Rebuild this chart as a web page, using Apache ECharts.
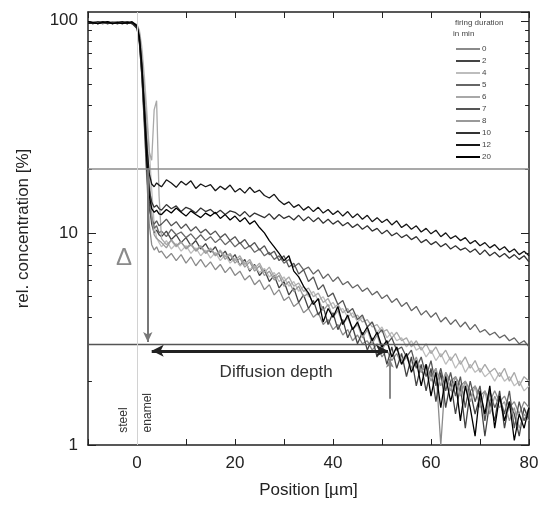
<!DOCTYPE html>
<html>
<head>
<meta charset="utf-8">
<script src="https://cdn.jsdelivr.net/npm/echarts@6/dist/echarts.min.js"></script>
<style>html,body{margin:0;padding:0;background:#fff}#c{width:545px;height:506px}</style>
</head>
<body>
<div id="c"></div>
<script>
// Position grid (µm): flat steel region, fine steps over the step, then 1 µm steps
const positions = [-10,-9,-8,-7,-6,-5,-4,-3,-2,-1,0,0.5,1,1.5,2,2.5,3,3.5,4,4.5,
  5,6,7,8,9,10,11,12,13,14,15,16,17,18,19,20,21,22,23,24,25,26,27,28,29,30,
  31,32,33,34,35,36,37,38,39,40,41,42,43,44,45,46,47,48,49,50,51,52,53,54,55,
  56,57,58,59,60,61,62,63,64,65,66,67,68,69,70,71,72,73,74,75,76,77,78,79,80];

const legendLabels = ['0','2','4','5','6','7','8','10','12','20'];

const c0 = [97,98,97,98,97,99,98,97,98,97, 93,79,54,32,18,11,8.8,8.3,8.6,8.1,
  8.2,7.6,8.0,7.4,7.9,7.2,7.7,7.0,7.5,6.9, 7.3,6.7,7.1,6.5,6.9,6.3,6.6,6.0,6.3,5.7,
  6.0,5.4,5.7,5.1,5.4,4.8,5.0,4.5,4.7,4.2, 4.4,4.0,4.2,3.7,3.9,3.5,3.7,3.3,3.5,3.1,
  3.3,3.0,3.1,2.8,3.0,2.6,2.8,2.5,2.7,2.4, 2.6,2.3,2.5,2.2,2.4,2.1,2.3,1.0,2.2,2.0,
  2.1,1.9,2.0,1.8,1.9,1.7,1.8,1.6,1.8,1.6, 1.7,1.5,1.6,1.4,1.6,1.5];
const c2 = [98,99,97,98,98,97,98,99,97,98, 94,81,58,36,21,14,11,10,10.3,9.8,
  9.6,10.2,9.3,9.8,9.0,9.5,8.7,9.2,8.4,8.9, 8.1,8.6,7.7,8.2,7.4,7.9,7.0,7.5,6.6,7.1,
  6.3,6.7,5.9,6.3,5.5,5.9,5.1,5.5,4.7,5.1, 4.4,4.8,4.1,4.5,3.7,4.2,3.5,3.9,3.2,3.6,
  3.0,3.4,2.8,3.2,2.6,3.0,2.4,2.9,2.3,2.7, 2.1,2.6,1.9,2.4,1.8,2.3,1.6,2.2,1.5,2.0,
  1.4,1.9,1.2,1.8,1.4,1.7,1.1,1.6,1.3,1.8, 1.2,1.6,1.4,1.1,1.5,1.3];
const c4 = [98,97,99,98,97,98,97,99,97,98, 96,90,75,55,38,25,16,11,9.5,9.0,
  8.6,9.2,8.4,8.9,8.2,8.7,8.0,8.5,7.8,8.3, 7.6,8.1,7.4,7.9,7.2,7.6,7.0,7.3,6.7,7.0,
  6.5,6.8,6.2,6.5,5.9,6.2,5.6,5.9,5.3,5.6, 5.0,5.3,4.8,5.0,4.5,4.7,4.3,4.4,4.0,4.2,
  3.8,4.0,3.6,3.8,3.4,3.6,3.2,3.4,3.1,3.2, 2.9,3.1,2.8,2.9,2.6,2.8,2.5,2.7,2.4,2.6,
  2.3,2.5,2.2,2.4,2.2,2.3,2.1,2.2,2.0,2.2, 2.0,2.1,1.9,2.0,1.8,1.9];
const c5 = [98,97,98,99,97,98,99,97,98,97, 94,83,63,42,26,17,12,10.5,10.8,10.0,
  10.2,9.6,10.4,9.8,10.1,9.5,9.9,9.3,9.8,9.2, 9.6,9.0,9.4,8.8,9.2,8.6,9.0,8.4,8.7,8.1,
  8.4,7.8,8.1,7.5,7.8,7.2,7.5,6.9,7.2,6.7, 6.9,6.4,6.7,6.1,6.4,5.9,6.2,5.7,5.9,5.5,
  5.7,5.3,5.5,5.1,5.3,4.9,5.1,4.7,4.9,4.5, 4.7,4.3,4.5,4.1,4.3,4.0,4.2,3.8,4.0,3.7,
  3.9,3.6,3.8,3.5,3.7,3.4,3.5,3.3,3.4,3.2, 3.3,3.1,3.2,3.0,3.1,2.9];
const c6 = [97,99,98,97,98,97,98,99,98,97, 96,88,70,50,34,24,22,38,42,15,
  9.4,8.8,9.2,8.6,9.0,8.5,8.9,8.3,8.7,8.1, 8.5,7.9,8.3,7.7,8.0,7.4,7.8,7.1,7.5,6.8,
  7.2,6.5,6.9,6.2,6.5,5.9,6.2,5.6,5.8,5.3, 5.5,5.0,5.2,4.7,4.9,4.4,4.6,4.2,4.4,4.0,
  4.1,3.8,3.9,3.6,3.7,3.4,3.5,3.2,3.4,3.1, 3.2,2.9,3.1,2.8,3.0,2.7,2.9,2.6,2.8,2.5,
  2.7,2.4,2.6,2.3,2.5,2.2,2.4,2.2,2.3,2.1, 2.3,2.0,2.2,1.9,2.1,2.0];
const c7 = [97,98,98,97,99,98,97,98,97,98, 93,80,56,33,19,13,11.5,11,11.4,10.8,
  11.0,11.6,10.8,11.3,10.5,11.0,10.2,10.7,10.0,10.4, 9.8,10.2,9.5,9.9,9.2,9.6,8.9,9.3,8.6,9.0,
  8.3,8.7,7.9,8.2,7.4,7.8,6.9,7.2,6.4,6.7, 5.9,6.2,5.4,5.7,5.0,5.2,4.6,4.8,4.2,4.4,
  3.9,4.1,3.6,3.8,3.3,3.5,3.0,3.2,2.8,2.9, 2.6,2.8,2.3,2.6,2.1,2.5,1.9,2.3,1.8,2.2,
  1.7,2.1,1.5,2.0,1.6,1.9,1.3,1.8,1.5,1.7, 1.4,1.8,1.2,1.6,1.3,1.5];
const c8 = [97,98,99,97,98,98,97,98,99,97, 95,86,66,44,28,18,12,9.8,9.4,9.2,
  9.0,8.5,9.3,8.7,9.1,8.4,8.8,8.2,8.6,8.0, 8.4,7.8,8.2,7.5,7.9,7.2,7.6,6.9,7.3,6.6,
  7.0,6.3,6.6,6.0,6.3,5.6,5.9,5.3,5.6,5.0, 5.2,4.6,4.9,4.3,4.6,4.0,4.3,3.7,4.0,3.5,
  3.7,3.2,3.5,3.0,3.3,2.8,3.1,2.6,2.9,2.5, 2.7,2.3,2.6,2.2,2.4,2.0,2.3,1.9,2.2,1.8,
  2.1,1.7,2.0,1.6,1.9,1.5,1.8,1.4,1.7,1.5, 1.6,1.3,1.5,1.2,1.4,1.3];
const c10 = [98,97,99,98,97,98,97,98,99,97, 92,78,55,35,22,16,14,13.2,13.5,13.0,
  12.8,13.6,13.0,13.4,12.6,13.2,12.9,12.4,13.1,12.6, 12.9,12.3,12.8,12.2,12.7,12.5,12.0,12.6,11.9,12.4,
  12.1,11.8,12.3,11.6,12.2,11.7,12.0,11.5,12.1,11.4, 11.9,11.3,11.8,11.1,11.6,11.0,11.4,10.8,11.2,10.6,
  11.0,10.4,10.8,10.2,10.5,9.9,10.3,9.7,10.0,9.5, 9.8,9.3,9.6,9.0,9.3,8.8,9.1,8.6,8.9,8.4,
  8.7,8.3,8.5,8.1,8.4,7.9,8.3,7.8,8.1,7.7, 8.0,7.6,7.9,7.5,7.8,7.3];
const c12 = [97,98,97,99,98,97,98,99,97,98, 94,82,60,40,26,19,17,16.5,17.2,16.8,
  16.5,17.8,17.2,16.4,17.5,16.8,17.6,16.2,17.0,16.5, 16.9,15.8,16.6,16.0,16.8,15.6,16.2,15.4,16.4,15.5,
  15.9,15.0,14.6,15.2,14.2,13.6,14.0,13.2,13.6,12.8, 13.3,12.6,13.2,12.4,12.9,12.2,12.7,12.0,12.6,11.8,
  12.3,11.6,12.1,11.3,11.8,11.2,11.6,10.9,11.4,10.6, 11.0,10.4,10.8,10.1,10.5,9.9,10.3,9.6,10.0,9.4,
  9.7,9.2,9.5,8.9,9.2,8.7,9.0,8.5,8.8,8.3, 8.6,8.1,8.4,7.9,8.2,7.8];
const c20 = [99,98,97,98,99,97,98,97,98,99, 95,84,62,38,22,15,13,12.5,12.8,12.3,
  12.2,12.9,12.4,13.1,12.5,12.0,12.7,12.2,11.8,12.4, 12.0,12.5,11.7,12.2,11.5,12.0,11.3,11.8,11.0,11.4,
  10.6,10.0,9.2,8.6,8.0,7.4,7.8,6.6,6.2,5.6, 5.2,4.6,4.9,3.8,4.4,4.0,4.5,3.7,4.1,3.5,
  3.8,3.3,3.6,3.1,3.4,2.9,3.1,2.6,2.9,2.4, 2.7,2.2,2.5,1.9,2.4,1.7,2.2,1.5,2.1,1.6,
  2.0,1.3,1.9,1.5,1.1,1.8,1.4,1.9,1.2,1.7, 1.3,1.6,1.05,1.4,1.2,1.5];

const seriesValues = [c0,c2,c4,c5,c6,c7,c8,c10,c12,c20];
const seriesColors = ['#8a8a8a','#444444','#bdbdbd','#666666','#a8a8a8','#555555','#999999','#333333','#161616','#000000'];

// Minor log tick values on the concentration axis
const minorTickValues = [2,3,4,5,6,7,8,9,20,30,40,50,60,70,80,90];

// Annotation levels (%), positions (µm)
const upperLevel = 20;
const lowerLevel = 3;
const deltaX = 2.2;
const depthStart = 3.0, depthEnd = 51.2, depthLevel = 2.78;
const markX = 51.6, markLow = 1.65, markHigh = 2.55;
const xMin = -10, xMax = 80;

const chart = echarts.init(document.getElementById('c'), null, {renderer:'canvas'});
const FONT = 'Liberation Sans, Arial, sans-serif';

const series = legendLabels.map((name, k) => ({
  name, type:'line', symbol:'none', showSymbol:false,
  data: positions.map((x,i)=>[x, seriesValues[k][i]]),
  lineStyle:{width:1.3, color:seriesColors[k]},
  itemStyle:{color:seriesColors[k]},
  z: 3
}));

const tickLen = 0.8; // in µm
const minorTickLines = [];
minorTickValues.forEach(v => {
  minorTickLines.push([{coord:[xMin, v]}, {coord:[xMin + tickLen, v]}]);
  minorTickLines.push([{coord:[xMax - tickLen, v]}, {coord:[xMax, v]}]);
});

series.push({
  name:'ticks', type:'line', data:[], silent:true, z:6,
  markLine:{
    silent:true, symbol:'none', animation:false, label:{show:false},
    lineStyle:{color:'#222', width:1, type:'solid'},
    data: minorTickLines
  }
});

series.push({
  name:'annot', type:'line', data:[], silent:true, z:5,
  markLine:{
    silent:true, symbol:'none', animation:false,
    label:{show:false},
    data:[
      {yAxis:upperLevel, lineStyle:{color:'#8c8c8c', width:1.6, type:'solid'}},
      {yAxis:lowerLevel, lineStyle:{color:'#555', width:1.4, type:'solid'}},
      {xAxis:0, lineStyle:{color:'#d2d2d2', width:1, type:'solid'}},
      [{coord:[deltaX, upperLevel], symbol:'none'},
       {coord:[deltaX, lowerLevel*1.02], symbol:'arrow', symbolSize:[7,10], lineStyle:{color:'#777', width:2, type:'solid'}}],
      [{coord:[depthStart, depthLevel], symbol:'arrow', symbolSize:[9,12]},
       {coord:[depthEnd, depthLevel], symbol:'arrow', symbolSize:[9,12], lineStyle:{color:'#222', width:3, type:'solid'}}],
      [{coord:[markX, markLow], symbol:'none'},
       {coord:[markX, markHigh], symbol:'arrow', symbolSize:[6,9], lineStyle:{color:'#888', width:2, type:'solid'}}]
    ]
  },
  markPoint:{
    silent:true, symbol:'circle', symbolSize:0, animation:false,
    data:[
      {coord:[-2.65, 7.57], label:{show:true, formatter:'\u0394', fontSize:24, color:'#8a8a8a', fontFamily:FONT}},
      {coord:[28.4, 2.19], label:{show:true, formatter:'Diffusion depth', fontSize:17, color:'#333', fontFamily:FONT}},
      {coord:[-2.65, 1.31], label:{show:true, formatter:'steel', fontSize:12, rotate:90, color:'#333', fontFamily:FONT}},
      {coord:[2.2, 1.42], label:{show:true, formatter:'enamel', fontSize:12, rotate:90, color:'#333', fontFamily:FONT}}
    ]
  }
});

const axisLine = {show:true, onZero:false, lineStyle:{color:'#222', width:1.5}};
chart.setOption({
  animation:false,
  backgroundColor:'#fff',
  grid:{left:88, right:16, top:12, bottom:61},
  legend:{
    data:legendLabels, orient:'vertical', left:451, top:40,
    icon:'rect', itemWidth:24, itemHeight:2, itemGap:4,
    textStyle:{fontSize:8, color:'#444', fontFamily:FONT, padding:[0,0,0,-3]}
  },
  graphic:[
    {type:'text', left:455, top:19, style:{text:'firing duration', fontSize:8, fill:'#444', fontFamily:FONT}},
    {type:'text', left:453, top:30, style:{text:'in min', fontSize:8, fill:'#444', fontFamily:FONT}}
  ],
  xAxis:[
    {type:'value', min:xMin, max:xMax, interval:10,
     axisLine, axisTick:{inside:true, length:6, lineStyle:{color:'#222'}},
     axisLabel:{fontSize:17, color:'#222', margin:10, fontFamily:FONT,
       formatter:v => (v % 20 === 0 ? String(v) : '')},
     splitLine:{show:false},
     name:'Position [\u00b5m]', nameLocation:'middle', nameGap:37,
     nameTextStyle:{fontSize:17, color:'#222', fontFamily:FONT}},
    {type:'value', position:'top', min:xMin, max:xMax, interval:10,
     axisLine, axisTick:{inside:true, length:6, lineStyle:{color:'#222'}},
     axisLabel:{show:false}, splitLine:{show:false}}
  ],
  yAxis:[
    {type:'log', logBase:10, min:1, max:110, position:'left',
     axisLine, axisTick:{inside:true, length:8, lineStyle:{color:'#222'}},
     axisLabel:{fontSize:17, color:'#222', margin:10, fontFamily:FONT},
     splitLine:{show:false},
     name:'rel. concentration [%]', nameLocation:'middle', nameGap:56,
     nameTextStyle:{fontSize:17, color:'#222', fontFamily:FONT}},
    {type:'log', logBase:10, min:1, max:110, position:'right',
     axisLine, axisTick:{inside:true, length:8, lineStyle:{color:'#222'}},
     axisLabel:{show:false}, splitLine:{show:false}}
  ],
  series
});
</script>
</body>
</html>
